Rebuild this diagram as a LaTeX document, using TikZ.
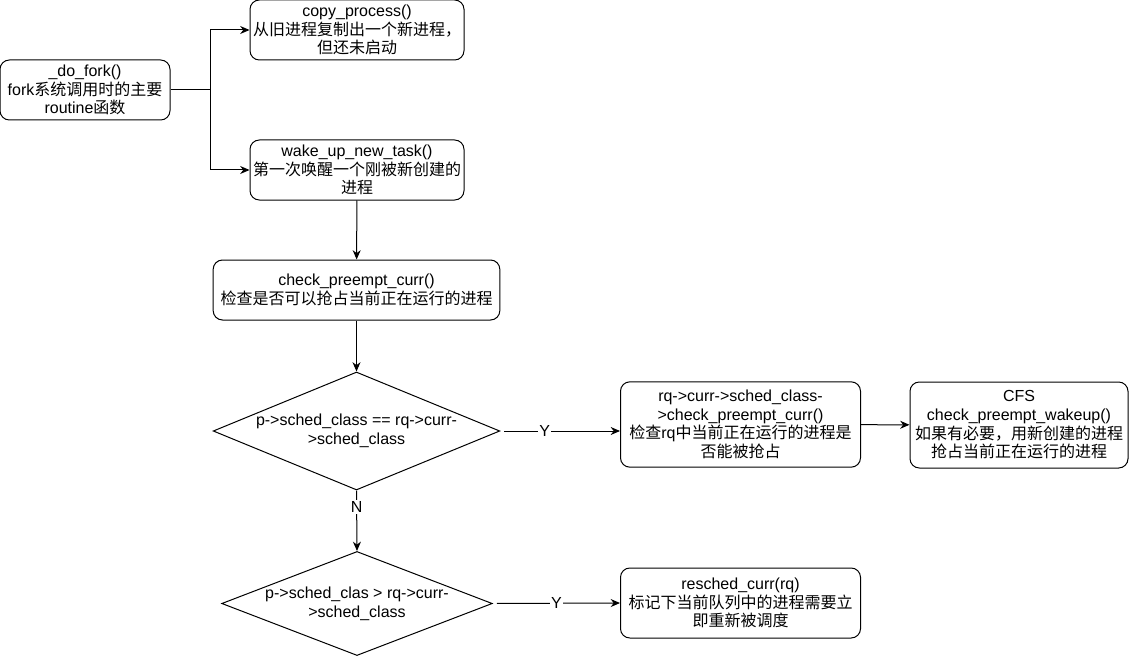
\documentclass[tikz,border=0pt]{standalone}
\usepackage{fontspec}
\setmainfont{Liberation Sans}
\newfontfamily\cjk{Noto Sans CJK SC}
\usetikzlibrary{positioning,shapes.geometric,arrows.meta}

\begin{document}
\begin{tikzpicture}[x=0.75pt, y=-0.75pt,
                font=\fontsize{12}{14}\selectfont,
                blk/.style={draw, rounded corners=7pt, fill=white,
                            align=center, inner sep=0pt, line width=0.75pt},
                cond/.style={draw, diamond, fill=white, align=center,
                             inner sep=0pt, line width=0.75pt},
                arr/.style={-{Stealth[length=7pt,width=6pt]}, line width=0.75pt},
                lbl/.style={fill=white, inner sep=1pt}]
                \fill[white] (0,0) rectangle (1131,656);
                \useasboundingbox (0,0) rectangle (1131,656);
                % fork path
                \node[blk, minimum width=127.5pt, minimum height=45pt] (fork) at (85,90)
                    {\_do\_fork()\\fork{\cjk 系统调用时的主要}\\routine{\cjk 函数}};
                \node[blk, minimum width=160.5pt, minimum height=45pt] (copy) at (357,30)
                    {copy\_process()\\{\cjk 从旧进程复制出一个新进程，}\\{\cjk 但还未启动}};
                \node[blk, minimum width=160.5pt, minimum height=45pt] (wake) at (357,170)
                    {wake\_up\_new\_task()\\{\cjk 第一次唤醒一个刚被新创建的}\\{\cjk 进程}};
                \coordinate (split) at (210,90);
                \draw[line width=0.75pt] (fork) -- (split);
                \draw[arr] (split) |- (copy);
                \draw[arr] (split) |- (wake);
                % preempt check
                \node[blk, minimum width=215pt, minimum height=45pt] (check) at (356.5,290)
                    {check\_preempt\_curr()\\{\cjk 检查是否可以抢占当前正在运行的进程}};
                \node[cond, minimum width=215pt, minimum height=88.5pt, aspect=2.4] (same) at (356.5,431)
                    {p->sched\_class == rq->curr-\\>sched\_class};
                \node[cond, minimum width=199.5pt, minimum height=77.5pt, aspect=2.6] (higher) at (357,603.5)
                    {p->sched\_clas > rq->curr-\\>sched\_class};
                \node[blk, minimum width=180pt, minimum height=64pt] (rqchk) at (740.5,424.5)
                    {rq->curr->sched\_class-\\>check\_preempt\_curr()\\{\cjk 检查}rq{\cjk 中当前正在运行的进程是}\\{\cjk 否能被抢占}};
                \node[blk, minimum width=163.5pt, minimum height=64.5pt] (cfs) at (1019,425)
                    {CFS\\check\_preempt\_wakeup()\\{\cjk 如果有必要，用新创建的进程}\\{\cjk 抢占当前正在运行的进程}};
                \node[blk, minimum width=180pt, minimum height=52.5pt] (resched) at (740.5,603)
                    {resched\_curr(rq)\\{\cjk 标记下当前队列中的进程需要立}\\{\cjk 即重新被调度}};
                \draw[arr] (wake) -- (check);
                \draw[arr] (check) -- (same);
                \draw[arr, shorten <=3pt] (same.east) -- (same.east -| rqchk.west)
                    node[lbl, pos=0.37] (y1) {Y};
                \draw[arr] (rqchk) -- (cfs);
                \draw[arr] (same.south) -- (higher.north) node[lbl, pos=0.27] (n1) {N};
                \draw[arr, shorten <=3pt] (higher.east) -- (resched.west)
                    node[lbl, pos=0.5] (y2) {Y};
            \end{tikzpicture}
\end{document}
